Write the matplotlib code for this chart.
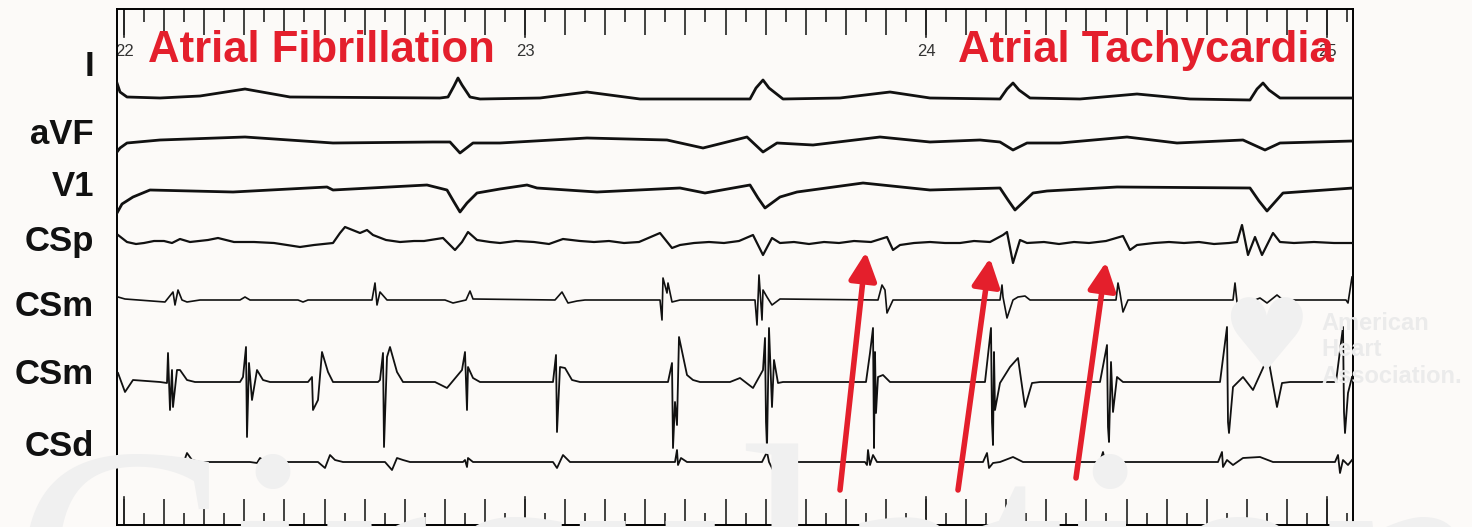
import matplotlib
matplotlib.use("Agg")
import matplotlib.pyplot as plt
import numpy as np

# recording: samples counted from t = 22 s
T0 = 22.0
FS = 401.0

# ---- surface ECG (sample index, amplitude) ----
i_n = [-7, -4, 3, 36, 76, 121, 166, 316, 324, 330, 334, 338, 346, 356, 416, 463, 516,
       626, 632, 639, 645, 659, 716, 766, 806, 876, 883, 889, 895, 906, 956, 1013, 1066,
       1126, 1133, 1139, 1145, 1156, 1229]
i_amp = [15, 6, 1, 0, 2, 9, 1, 0, 1, 12, 20, 13, 1, -1, 0, 6, -1,
         -1, 10, 18, 10, -1, 0, 6, 0, -1, 9, 15, 8, 0, -1, 4, -1,
         -2, 9, 15, 8, 0, 0]

avf_n = [-7, -4, 3, 36, 121, 209, 309, 326, 336, 349, 376, 463, 543, 579, 623, 639, 653,
         689, 756, 806, 856, 876, 889, 903, 936, 1003, 1053, 1119, 1141, 1156, 1229]
avf_amp = [-10, -6, -1, 2, 5, -1, 0, 0, -11, -1, -1, 4, 2, -6, 5, -10, -1,
           -3, 5, 0, 2, 0, -8, -1, -1, 5, -1, 2, -8, -1, 1]

v1_n = [-7, -2, 9, 26, 109, 203, 209, 303, 323, 330, 336, 343, 353, 376, 403, 413, 473,
        556, 581, 626, 634, 641, 656, 673, 739, 806, 876, 884, 891, 909, 923, 993,
        1126, 1135, 1143, 1159, 1229]
v1_amp = [-23, -14, -7, 0, -2, 3, 0, 5, 0, -12, -22, -13, -3, 1, 5, 2, -2,
          2, -3, 5, -8, -18, -7, -2, 7, 0, 2, -10, -20, -3, -1, 3,
          2, -11, -21, -3, 2]

# ---- coronary sinus electrograms ----
csp_n = [-6, 3, 12, 20, 30, 40, 48, 56, 66, 75, 84, 94, 110, 130, 150, 176, 190, 209,
         216, 221, 236, 243, 249, 262, 276, 290, 300, 319, 331, 338, 344, 353, 366,
         376, 392, 410, 425, 439, 456, 470, 485, 500, 515, 536, 548, 556, 570, 585,
         600, 615, 629, 639, 648, 656, 670, 685, 700, 715, 730, 747, 763, 769, 776,
         790, 806, 821, 836, 850, 866, 879, 883, 889, 896, 903, 920, 935, 950, 965,
         982, 999, 1006, 1013, 1030, 1045, 1060, 1075, 1090, 1105, 1113, 1118, 1124,
         1131, 1138, 1149, 1156, 1170, 1190, 1210, 1229]
csp_amp = [8, 1, -1, 0, 2, 2, 0, 4, 1, 2, 3, 5, 1, 1, 0, -4, -2, 0,
           10, 16, 10, 13, 8, 3, 1, 2, 2, 5, -7, 1, 11, 3, 1,
           0, 2, 1, -1, 4, 2, 1, 2, 0, 1, 10, -5, -2, 0, 1,
           0, 2, 8, -12, 5, 0, 1, -1, 1, 0, 2, 1, 6, -7, -2,
           0, 1, 0, 0, 2, 1, 8, 11, -20, 3, 0, 1, -1, 1, 0,
           2, 7, -7, -2, 0, 1, 0, 1, -1, 0, 1, 18, -12,
           6, -12, 10, 1, 0, 1, 0, 0]

csm1_n = [-6, 1, 41, 49, 51, 54, 58, 63, 76, 116, 121, 126, 174, 179, 184, 248, 251, 253,
          256, 263, 321, 329, 342, 346, 349, 431, 438, 444, 453, 461, 536, 538, 539,
          543, 544, 548, 556, 631, 633, 635, 638, 639, 643, 648, 656, 754, 758, 761,
          763, 769, 876, 878, 879, 883, 889, 894, 901, 906, 992, 994, 996, 999, 1004,
          1109, 1111, 1113, 1118, 1126, 1136, 1143, 1153, 1159, 1222, 1224, 1228]
csm1_amp = [3, 1, -2, 8, -5, 10, 0, -2, 0, 0, 3, 0, 0, -2, 0, 0, 17, -5,
            8, 0, 0, -3, 0, 9, 1, 0, 8, -3, -1, 0, 0, -20, 22,
            7, 17, -2, 0, 0, -25, 25, -20, 10, 3, -5, 1, 0, 15, 10,
            -13, 0, 0, 15, 3, -18, 0, 3, 4, 0, 0, 17, 7, -12, 0,
            0, 17, -2, -15, -2, 2, -3, 5, 0, 0, -3, 23]

csm2_n = [-6, 1, 9, 36, 43, 44, 46, 48, 49, 53, 56, 63, 71, 116, 119, 122, 123, 125,
          128, 133, 139, 146, 184, 188, 189, 194, 198, 204, 209, 254, 256, 259, 260,
          263, 266, 273, 279, 311, 323, 338, 341, 343, 344, 349, 356, 429, 432, 433,
          436, 441, 448, 456, 544, 548, 549, 551, 553, 555, 563, 569, 576, 606, 616,
          629, 639, 641, 642, 643, 645, 648, 650, 654, 659, 742, 746, 749, 750, 751,
          752, 754, 759, 766, 861, 867, 868, 869, 870, 871, 876, 886, 894, 901, 908,
          916, 976, 983, 984, 985, 987, 989, 993, 999, 1096, 1103, 1104, 1105, 1109,
          1119, 1129, 1144, 1153, 1158, 1166, 1212, 1219, 1220, 1221, 1224, 1228]
csm2_amp = [9, -10, 2, 0, -1, 29, -28, 12, -25, 12, 12, 2, 0, 0, 5, 35, -55, 19,
            -18, 12, 2, 0, 0, 5, -28, -18, 30, 10, 0, 0, 2, 29, -65,
            25, 35, 10, 0, 0, -6, 12, 30, -28, 15, 4, 0, 0, 27, -50,
            15, 14, 2, 0, 0, 19, -66, -20, -43, 45, 7, 2, 0, 0, 4,
            -6, 12, 44, -40, -66, 54, -25, 22, -1, 0, 0, 29, 54, -66, 30,
            -31, 5, 7, 0, 0, 54, -40, -63, 30, -28, -1, 15, 24, -25, -1,
            0, 0, 37, -45, -60, 20, -30, 5, 0, 0, 55, -40, -51, -5,
            5, -8, 25, -25, -1, 0, 0, 55, -30, -51, -11, 5]

csd_n = [-6, -1, 51, 56, 58, 63, 68, 76, 126, 133, 136, 139, 146, 194, 201, 206, 211,
         219, 261, 268, 273, 279, 286, 339, 341, 343, 344, 349, 429, 433, 439, 446, 551,
         553, 554, 557, 563, 638, 643, 645, 649, 656, 663, 741, 743, 744, 746, 749,
         753, 859, 863, 865, 869, 876, 889, 899, 976, 979, 982, 986, 1094, 1098, 1099,
         1103, 1109, 1119, 1136, 1149, 1211, 1214, 1216, 1219, 1224, 1228]
csd_amp = [4, -1, 0, -3, -5, 9, 2, 0, 0, -1, 4, 2, 0, 0, -6, 7, 2,
           0, 0, -8, 4, 2, 0, 0, 2, -5, 4, 0, 0, -6, 7, 0, 0,
           12, -3, 4, 0, 0, 10, 0, -8, -1, 0, 0, -3, 12, -3, 7,
           0, 0, 9, -6, -1, 0, 5, 0, 0, 10, -5, 0, 0, 10, -5,
           2, -3, 4, 5, 0, 0, 7, -11, 2, -3, 2]

channel_names = ["I", "aVF", "V1", "CSp", "CSm", "CSm", "CSd"]
channel_base = [427, 383, 335, 282, 225, 143, 63]
label_y = [458, 390, 338, 283, 218, 150, 79]
traces = [(i_n, i_amp), (avf_n, avf_amp), (v1_n, v1_amp), (csp_n, csp_amp),
          (csm1_n, csm1_amp), (csm2_n, csm2_amp), (csd_n, csd_amp)]
trace_lw = [2.0, 2.0, 2.0, 1.6, 1.2, 1.3, 1.3]

# arrows pointing at atrial tachycardia activations (sample, level)
arrow_tail = [(716, 35), (834, 35), (952, 47)]
arrow_head = [(742, 273), (866, 267), (982, 263)]

seconds = [22, 23, 24, 25]

RED = "#e41f2c"


def to_t(n):
    return T0 + np.asarray(n, dtype=float) / FS


fig = plt.figure(figsize=(14.72, 5.27), dpi=100, facecolor="#fcfaf8")

# faint journal watermarks behind the plot
fig.text(0.008, -0.275, "Circulation", fontsize=236, color="#f0f0f0",
         family="Liberation Serif", zorder=0)
fig.text(0.86, 0.35, "\u2665", fontsize=72, color="#f0f0f0",
         family="DejaVu Sans", ha="center", va="center", zorder=0)
fig.text(0.898, 0.336, "American\nHeart\nAssociation.", fontsize=17,
         color="#ebebeb", fontweight="bold", family="Liberation Sans",
         linespacing=1.19, va="center", zorder=0)

ax = fig.add_axes([117 / 1472, 2 / 527, 1236 / 1472, 516 / 527])
ax.set_facecolor("none")
ax.set_xlim(to_t(-7), to_t(1229))
ax.set_ylim(0, 516)

for (n, amp), base, lw in zip(traces, channel_base, trace_lw):
    ax.plot(to_t(n), base + np.asarray(amp), color="#111111", lw=lw,
            solid_joinstyle="round", zorder=3)

for name, y in zip(channel_names, label_y):
    ax.text(to_t(-30), y, name, ha="right", va="center", fontsize=25,
            fontweight="bold", family="Liberation Sans", color="#111111",
            clip_on=False)

# time ruler: ticks every 50 ms, longer every 100 ms, longest at whole seconds
for side in ("top", "bottom", "left", "right"):
    ax.spines[side].set_linewidth(1.4)
ax.xaxis.set_ticks_position("both")
ax.set_xticks(np.arange(22.0, 25.07, 0.1))
ax.set_xticks(np.arange(22.05, 25.07, 0.1), minor=True)
ax.tick_params(axis="x", which="major", direction="in", length=19, width=1.2,
               labelbottom=False, labeltop=False, color="#222222")
ax.tick_params(axis="x", which="minor", direction="in", length=9, width=1.2,
               color="#222222")
ax.set_yticks([])
for s in seconds:
    ax.plot([s, s], [516, 488], color="#222222", lw=1.2, zorder=2)
    ax.plot([s, s], [0, 28], color="#222222", lw=1.2, zorder=2)
    ax.text(s, 473, str(s), ha="center", va="center", fontsize=12,
            color="#333333", family="Liberation Sans", zorder=2)

for tail, head in zip(arrow_tail, arrow_head):
    ax.annotate("", xy=(to_t(head[0]), head[1]), xytext=(to_t(tail[0]), tail[1]),
                arrowprops=dict(arrowstyle="-|>,head_length=0.85,head_width=0.42",
                                mutation_scale=20, color=RED, lw=4,
                                shrinkA=0, shrinkB=0),
                zorder=5)

ax.text(to_t(24), 463, "Atrial Fibrillation", color=RED, fontsize=31.5,
        fontweight="bold", family="Liberation Sans",
        ha="left", va="baseline", zorder=6)
ax.text(to_t(834), 463, "Atrial Tachycardia", color=RED, fontsize=31.5,
        fontweight="bold", family="Liberation Sans",
        ha="left", va="baseline", zorder=6)

fig.savefig("out.png", dpi=100, facecolor=fig.get_facecolor())
